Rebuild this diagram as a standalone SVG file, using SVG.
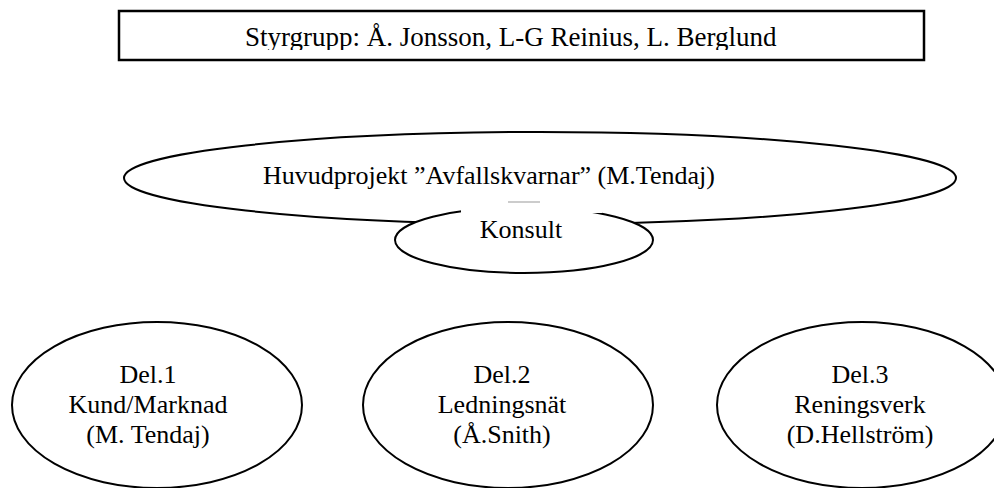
<svg xmlns="http://www.w3.org/2000/svg" width="994" height="488" viewBox="0 0 994 488">
<style>
text{font-family:"Liberation Serif","Times New Roman",serif;font-size:26px;fill:#000;text-anchor:middle}
.sh{fill:#fff;stroke:#000;stroke-width:2}
</style>
<defs>
<clipPath id="boxclip"><rect x="121" y="13" width="801" height="37"/></clipPath>
</defs>
<rect width="994" height="488" fill="#fff"/>
<g id="styrgrupp">
<rect x="119" y="11" width="805" height="49" fill="#fff" stroke="#000" stroke-width="2.5"/>
<text x="245" y="46" style="text-anchor:start;font-size:27px" clip-path="url(#boxclip)">Styrgrupp: Å. Jonsson, L-G Reinius, L. Berglund</text>
</g>
<g id="huvudprojekt">
<ellipse class="sh" cx="540" cy="178" rx="416" ry="46"/>
<text x="489" y="184">Huvudprojekt ”Avfallskvarnar” (M.Tendaj)</text>
</g>
<g id="konsult">
<ellipse class="sh" cx="524" cy="240" rx="129" ry="33"/>
<rect x="461" y="196" width="141" height="17" fill="#fff"/>
<line x1="508" y1="202" x2="540" y2="202" stroke="#999" stroke-width="1"/>
<text x="521" y="238">Konsult</text>
</g>
<g id="del1">
<ellipse class="sh" cx="157" cy="405" rx="145" ry="83"/>
<text x="148" y="383">Del.1</text>
<text x="148" y="413">Kund/Marknad</text>
<text x="148" y="443">(M. Tendaj)</text>
</g>
<g id="del2">
<ellipse class="sh" cx="508" cy="405" rx="145" ry="83"/>
<text x="502" y="383">Del.2</text>
<text x="502" y="413">Ledningsnät</text>
<text x="502" y="443">(Å.Snith)</text>
</g>
<g id="del3">
<ellipse class="sh" cx="862" cy="405" rx="145" ry="83"/>
<text x="860" y="383">Del.3</text>
<text x="860" y="413">Reningsverk</text>
<text x="860" y="443">(D.Hellström)</text>
</g>
<g id="connectors"></g>
</svg>
